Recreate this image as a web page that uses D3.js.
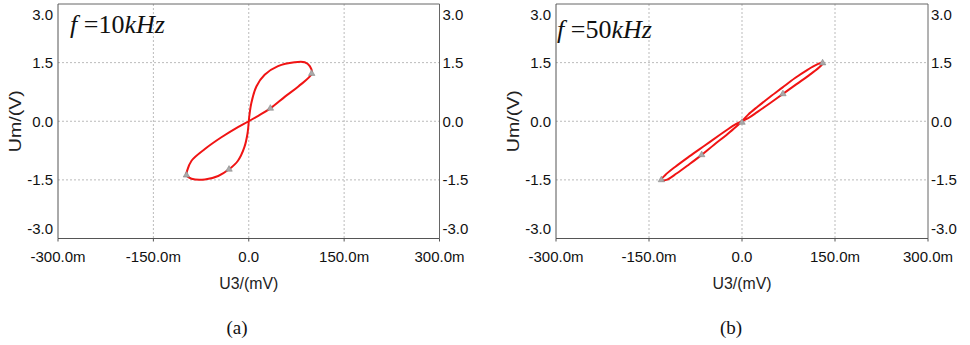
<!DOCTYPE html>
<html>
<head>
<meta charset="utf-8">
<script src="https://cdn.jsdelivr.net/npm/d3@7"></script>
<style>
  body { margin: 0; background: #fff; }
  svg { display: block; }
  .tick-label { font-family: "Liberation Sans", Arial, sans-serif; font-size: 15px; fill: #111; }
  .axis-title { font-family: "Liberation Sans", Arial, sans-serif; font-size: 16px; fill: #222; }
  .freq, .caption { font-family: "Liberation Serif", "Times New Roman", serif; fill: #111; }
</style>
</head>
<body>
<div id="chart"></div>
<script>
// axis ticks shared by both panels
const xTicks = [-300, -150, 0, 150, 300];
const yTicks = [-3.0, -1.5, 0.0, 1.5, 3.0];
const xGrid = [-150, 0, 150];
const yGrid = [-1.5, 0, 1.5];

// panel (a), f = 10kHz : figure-eight loop (U3 in mV, Um in V)
const loopA_x = [0, 4, 12, 25, 46, 72, 88, 96, 99, 78, 57, 34, 15, 0,
  -17, -43, -69, -90, -97, -98, -90, -69, -48, -31, -17, -7, -2, 0];
const loopA_y = [0, 0.46, 0.89, 1.19, 1.41, 1.51, 1.51, 1.41, 1.22, 0.89, 0.63, 0.33, 0.14, 0,
  -0.15, -0.41, -0.71, -1.01, -1.27, -1.38, -1.47, -1.49, -1.40, -1.23, -1.01, -0.67, -0.32, 0];
const markA_x = [99, 34, -98, -31];
const markA_y = [1.22, 0.33, -1.38, -1.23];

// panel (b), f = 50kHz : thin loop
const loopB_x = [0, 10, 25, 45, 65, 85, 105, 122, 131, 126, 110, 88, 66, 45, 25, 10, 0,
  -12, -35, -60, -85, -108, -124, -130, -122, -105, -85, -65, -45, -25, -10, 0];
const loopB_y = [0, 0.17, 0.37, 0.62, 0.86, 1.10, 1.31, 1.46, 1.51, 1.40, 1.20, 0.95, 0.70, 0.46, 0.24, 0.08, 0,
  -0.09, -0.34, -0.62, -0.90, -1.17, -1.38, -1.50, -1.50, -1.33, -1.10, -0.86, -0.60, -0.35, -0.15, 0];
const markB_x = [130, 66, 0, -65, -130];
const markB_y = [1.49, 0.70, -0.03, -0.86, -1.50];

const width = 970, height = 345;

// plain hyphen minus, like the original software
const fmt = v => v.toFixed(1);

const svg = d3.select('#chart')
  .append('svg')
  .attr('width', width)
  .attr('height', height);

function drawPanel(p) {
  const x = d3.scaleLinear().domain([-300, 300]).range([p.left, p.right]);
  const y = d3.scaleLinear().domain([-3, 3]).range([p.bottom, p.top]);
  const g = svg.append('g');

  // dashed grid
  g.selectAll('.gx').data(xGrid).join('line')
    .attr('x1', d => x(d)).attr('x2', d => x(d))
    .attr('y1', p.top).attr('y2', p.bottom)
    .attr('stroke', '#bbb').attr('stroke-dasharray', '2,2');
  g.selectAll('.gy').data(yGrid).join('line')
    .attr('y1', d => y(d)).attr('y2', d => y(d))
    .attr('x1', p.left).attr('x2', p.right)
    .attr('stroke', '#bbb').attr('stroke-dasharray', '2,2');

  // frame
  g.append('line').attr('x1', p.left).attr('x2', p.right).attr('y1', p.top).attr('y2', p.top).attr('stroke', '#666');
  g.append('line').attr('x1', p.right).attr('x2', p.right).attr('y1', p.top).attr('y2', p.bottom).attr('stroke', '#666');
  g.append('line').attr('x1', p.left).attr('x2', p.left).attr('y1', p.top).attr('y2', p.bottom).attr('stroke', '#555');
  g.append('line').attr('x1', p.left).attr('x2', p.right).attr('y1', p.bottom).attr('y2', p.bottom).attr('stroke', '#555');

  // small ticks below x axis
  g.selectAll('.tx').data(xTicks).join('line')
    .attr('x1', d => x(d)).attr('x2', d => x(d))
    .attr('y1', p.bottom).attr('y2', p.bottom + 3)
    .attr('stroke', '#555');

  // x tick labels
  g.selectAll('.lx').data(xTicks).join('text')
    .attr('class', 'tick-label')
    .attr('x', d => x(d))
    .attr('y', p.bottom + 23)
    .attr('text-anchor', 'middle')
    .text(d => d === 0 ? '0.0' : fmt(d) + 'm');

  // y tick labels, both sides, end labels kept inside the frame
  const ly = d => Math.min(Math.max(y(d), p.top + 10), p.bottom - 10) + 5.5;
  g.selectAll('.ly').data(yTicks).join('text')
    .attr('class', 'tick-label')
    .attr('x', p.left - 5)
    .attr('y', ly)
    .attr('text-anchor', 'end')
    .text(fmt);
  g.selectAll('.ry').data(yTicks).join('text')
    .attr('class', 'tick-label')
    .attr('x', p.right + 3)
    .attr('y', ly)
    .attr('text-anchor', 'start')
    .text(fmt);

  // axis titles
  g.append('text')
    .attr('class', 'axis-title')
    .attr('x', x(0))
    .attr('y', p.bottom + 50)
    .attr('text-anchor', 'middle')
    .attr('textLength', 59)
    .attr('lengthAdjust', 'spacingAndGlyphs')
    .text('U3/(mV)');
  g.append('text')
    .attr('class', 'axis-title')
    .attr('transform', `translate(${p.left - 37},${y(0)}) rotate(-90)`)
    .attr('text-anchor', 'middle')
    .attr('textLength', 62)
    .attr('lengthAdjust', 'spacingAndGlyphs')
    .text('Um/(V)');

  // loop curve
  const pts = p.lx.map((v, i) => [v, p.ly[i]]);
  const line = d3.line()
    .x(d => x(d[0]))
    .y(d => y(d[1]))
    .curve(d3.curveCatmullRom.alpha(0.5));
  g.append('path')
    .attr('d', line(pts))
    .attr('fill', 'none')
    .attr('stroke', '#f01414')
    .attr('stroke-width', 2)
    .attr('stroke-linejoin', 'round');

  // gray triangle markers
  const tri = d3.symbol().type(d3.symbolTriangle).size(18);
  g.selectAll('.mk').data(p.mx.map((v, i) => [v, p.my[i]])).join('path')
    .attr('d', tri)
    .attr('transform', d => `translate(${x(d[0])},${y(d[1])})`)
    .attr('fill', '#aaa')
    .attr('stroke', '#888')
    .attr('stroke-width', 0.6);

  // frequency note
  const f = g.append('text')
    .attr('class', 'freq')
    .attr('x', p.fx)
    .attr('y', p.fy)
    .attr('font-size', 26);
  f.append('tspan').attr('font-style', 'italic').text('f');
  f.append('tspan').text(' =' + p.freq);
  f.append('tspan').attr('font-style', 'italic').text('kHz');

  // caption
  g.append('text')
    .attr('class', 'caption')
    .attr('x', p.cx)
    .attr('y', 334)
    .attr('text-anchor', 'middle')
    .attr('font-size', 19)
    .text(p.caption);
}

drawPanel({
  left: 58, right: 439.5, top: 4, bottom: 238.5,
  lx: loopA_x, ly: loopA_y, mx: markA_x, my: markA_y,
  freq: '10', fx: 70, fy: 33, caption: '(a)', cx: 237
});
drawPanel({
  left: 556, right: 928, top: 4, bottom: 238.5,
  lx: loopB_x, ly: loopB_y, mx: markB_x, my: markB_y,
  freq: '50', fx: 557, fy: 38, caption: '(b)', cx: 731
});
</script>
</body>
</html>
